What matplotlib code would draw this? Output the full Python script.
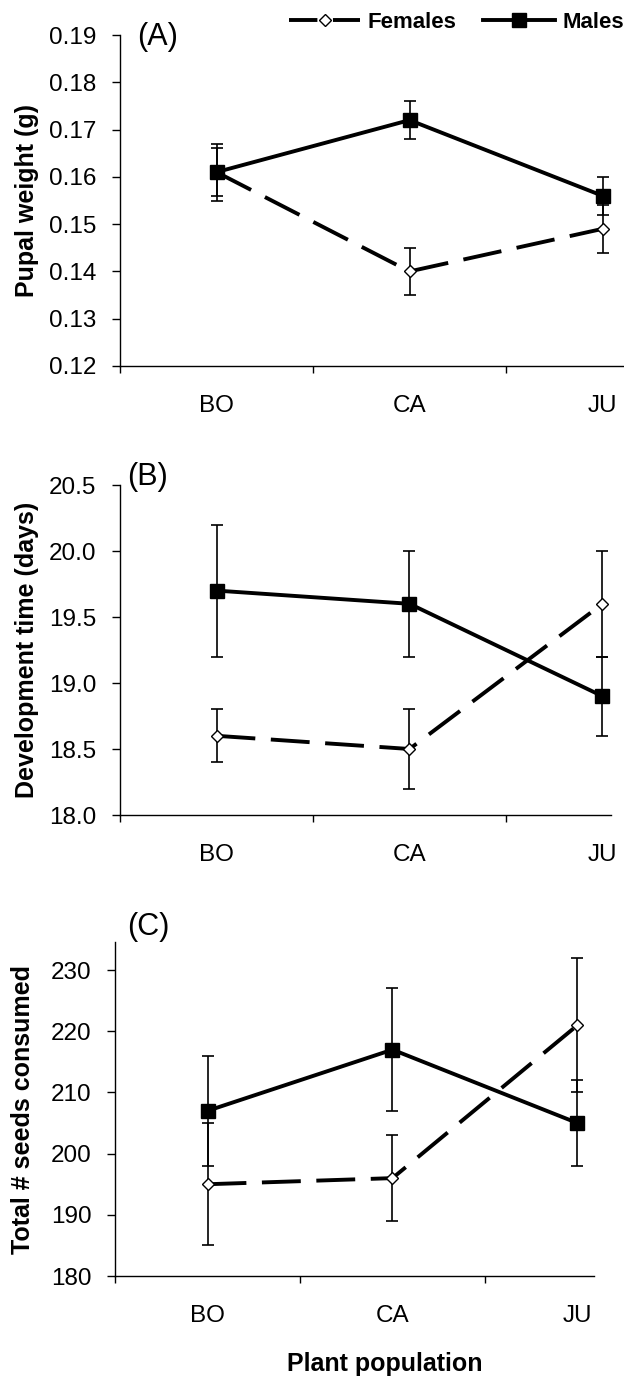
import matplotlib
matplotlib.use('Agg')
import matplotlib.pyplot as plt
from matplotlib.lines import Line2D
from matplotlib.ticker import FixedLocator, FormatStrFormatter

plt.rcParams['font.family'] = ['Liberation Sans', 'DejaVu Sans']

populations = ['BO', 'CA', 'JU']

# (A) pupal weight (g)
weight_f = [0.161, 0.140, 0.149]
weight_f_err = [0.005, 0.005, 0.005]
weight_m = [0.161, 0.172, 0.156]
weight_m_err = [0.006, 0.004, 0.004]

# (B) development time (days)
devtime_f = [18.6, 18.5, 19.6]
devtime_f_err = [0.2, 0.3, 0.4]
devtime_m = [19.7, 19.6, 18.9]
devtime_m_err = [0.5, 0.4, 0.3]

# (C) total seeds consumed
seeds_f = [195, 196, 221]
seeds_f_err = [10, 7, 11]
seeds_m = [207, 217, 205]
seeds_m_err = [9, 10, 7]

W, H = 624, 1377
fig = plt.figure(figsize=(W / 100, H / 100), dpi=100)


def add_ax(left, right, top, bottom):
    return fig.add_axes([left / W, 1 - bottom / H, (right - left) / W, (bottom - top) / H])


LW = 2.8
DASH = (0, (10, 4))
TICK_FS = 17.5


def draw_panel(ax, yf, ef, ym, em, ylim, yticks, fmt, xmax, ylabel, letter, letter_off, label_x):
    x = list(range(1, len(populations) + 1))
    ax.errorbar(x, yf, yerr=ef, fmt='none', ecolor='black', elinewidth=1.2,
                capsize=4.5, capthick=1.2, zorder=2)
    ax.errorbar(x, ym, yerr=em, fmt='none', ecolor='black', elinewidth=1.2,
                capsize=4.5, capthick=1.2, zorder=2)
    ax.plot(x, yf, color='black', lw=LW, linestyle=DASH, marker='D', ms=6.5,
            mfc='white', mec='black', mew=1.0, zorder=3)
    ax.plot(x, ym, color='black', lw=LW, linestyle='-', marker='s', ms=10,
            mfc='black', mec='black', zorder=4)

    ax.set_xlim(0.5, xmax)
    ax.set_ylim(*ylim)
    ax.set_yticks(yticks)
    ax.yaxis.set_major_formatter(FormatStrFormatter(fmt))
    ax.set_xticks(x)
    ax.set_xticklabels(populations)
    ax.xaxis.set_minor_locator(FixedLocator([0.5, 1.5, 2.5]))
    ax.tick_params(axis='x', which='major', length=0, pad=21, labelsize=TICK_FS)
    ax.tick_params(axis='x', which='minor', length=5, width=1, direction='out')
    ax.tick_params(axis='y', length=5.5, width=1, direction='out', pad=11.5, labelsize=TICK_FS)
    for s in ['top', 'right']:
        ax.spines[s].set_visible(False)
    for s in ['left', 'bottom']:
        ax.spines[s].set_linewidth(1.0)
    ax.set_ylabel(ylabel, fontsize=18, fontweight='bold', va='center')
    ax.yaxis.set_label_coords(label_x, 0.5)
    ax.annotate(letter, xy=(0, 1), xycoords='axes fraction', xytext=letter_off,
                textcoords='offset points', ha='left', va='center', fontsize=22)


axA = add_ax(120, 624, 35, 366)
draw_panel(axA, weight_f, weight_f_err, weight_m, weight_m_err, (0.12, 0.19),
           [0.12, 0.13, 0.14, 0.15, 0.16, 0.17, 0.18, 0.19], '%.2f',
           0.5 + 504 / 193, 'Pupal weight (g)', '(A)', (12, -1.5), (27 - 120) / 504)

axB = add_ax(120, 611, 485, 815)
draw_panel(axB, devtime_f, devtime_f_err, devtime_m, devtime_m_err, (18.0, 20.5),
           [18.0, 18.5, 19.0, 19.5, 20.0, 20.5], '%.1f',
           0.5 + 491 / 193, 'Development time (days)', '(B)', (5, 6), (27 - 120) / 491)

axC = add_ax(115, 594, 942, 1276)
draw_panel(axC, seeds_f, seeds_f_err, seeds_m, seeds_m_err, (180, 234.6),
           [180, 190, 200, 210, 220, 230], '%d',
           0.5 + 479 / 185, 'Total # seeds consumed', '(C)', (9, 11), (23 - 115) / 479)
axC.set_xlabel('Plant population', fontsize=18, fontweight='bold')
axC.xaxis.set_label_coords((385 - 115) / 479, -(1364 - 1276) / (1276 - 942))
axC.xaxis.label.set_va('center')

handles = [
    Line2D([], [], color='black', lw=LW, linestyle=(2.7, (10, 4)), marker='D', ms=6.5,
           mfc='white', mec='black', mew=1.0),
    Line2D([], [], color='black', lw=LW, linestyle='-', marker='s', ms=10,
           mfc='black', mec='black'),
]
fig.legend(handles, ['Females', 'Males'], loc='center right',
           bbox_to_anchor=(1.0, 1 - 22 / H), ncol=2, frameon=False,
           prop={'size': 16, 'weight': 'bold'}, handlelength=3.2,
           handletextpad=0.35, columnspacing=1.2, borderpad=0, borderaxespad=0)

fig.savefig('out.png', dpi=100)
